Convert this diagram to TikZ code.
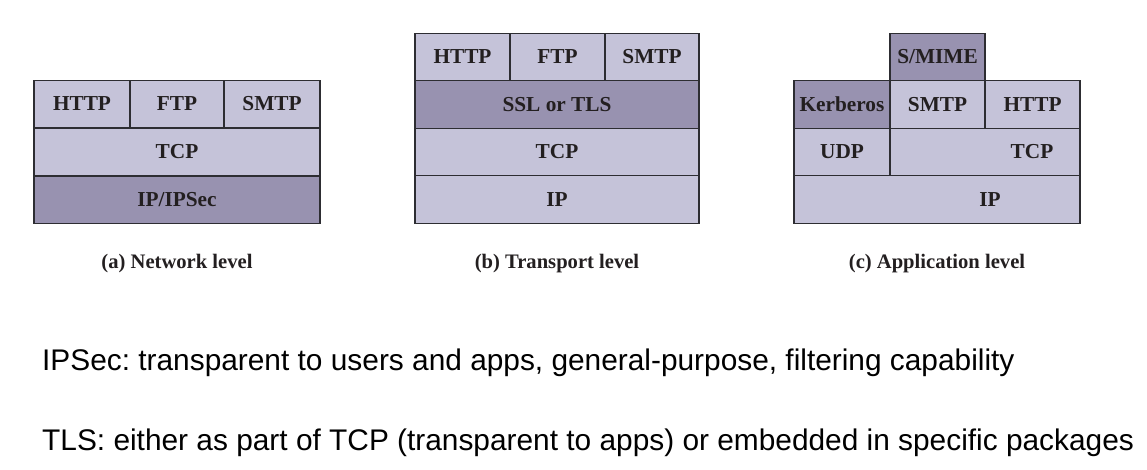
\documentclass[tikz,border=0pt]{standalone}
\usepackage{fontspec}
\setmainfont{Liberation Serif}
\newfontfamily\notefont{Liberation Sans}
\definecolor{layerlight}{RGB}{197,195,217}
\definecolor{layerdark}{RGB}{152,146,176}
\definecolor{layerline}{RGB}{45,45,50}
\definecolor{layerink}{RGB}{35,31,32}
\frenchspacing
\begin{document}
\begin{tikzpicture}[x=1pt,y=-1pt,
    layer/.style={draw=layerline,line width=1.3pt,fill=layerlight,inner sep=0pt,text=layerink,
        minimum height=47.6pt,font=\fontsize{21.3}{24}\selectfont\bfseries},
    seclayer/.style={layer,fill=layerdark},
    layertext/.style={inner sep=0pt,text=layerink,font=\fontsize{21.3}{24}\selectfont\bfseries},
    caption/.style={inner sep=0pt,text=layerink,font=\fontsize{20.6}{24}\selectfont\bfseries},
    note/.style={anchor=base west,inner sep=0pt,font=\notefont\fontsize{29.85}{36}\selectfont}]
        \useasboundingbox (0,0) rectangle (1147,469);
        % (a) network level
        \node[layer,minimum width=96pt] (aHttp) at (82,104) {HTTP};
        \node[layer,minimum width=94pt] (aFtp) at (177,104) {FTP};
        \node[layer,minimum width=96pt] (aSmtp) at (272,104) {SMTP};
        \node[layer,minimum width=286pt] (aTcp) at (177,152) {TCP};
        \node[seclayer,minimum width=286pt] (aIp) at (177,200) {IP/IPSec};
        \node[caption] (aCap) at (177,264) {(a) Network level};
        % (b) transport level
        \node[layer,minimum width=95pt] (bHttp) at (462.5,57) {HTTP};
        \node[layer,minimum width=95pt] (bFtp) at (557.5,57) {FTP};
        \node[layer,minimum width=94pt] (bSmtp) at (652,57) {SMTP};
        \node[seclayer,minimum width=284pt] (bSsl) at (557,104.5) {SSL or TLS};
        \node[layer,minimum width=284pt] (bTcp) at (557,152) {TCP};
        \node[layer,minimum width=284pt] (bIp) at (557,199.5) {IP};
        \node[caption] (bCap) at (557,264) {(b) Transport level};
        % (c) application level
        \node[seclayer,minimum width=95pt] (cMime) at (937.5,57) {S/MIME};
        \node[seclayer,minimum width=96pt] (cKerb) at (842,104.5) {Kerberos};
        \node[layer,minimum width=95pt] (cSmtp) at (937.5,104.5) {SMTP};
        \node[layer,minimum width=95pt] (cHttp) at (1032.5,104.5) {HTTP};
        \node[layer,minimum width=96pt] (cUdp) at (842,152) {UDP};
        \node[layer,minimum width=190pt] (cTcp) at (985,152) {};
        \node[layertext] (cTcpText) at (1032,152) {TCP};
        \node[layer,minimum width=286pt] (cIp) at (937,199.5) {};
        \node[layertext] (cIpText) at (990,199.5) {IP};
        \node[caption] (cCap) at (937,264) {(c) Application level};
        % notes
        \node[note] (ipsecNote) at (42,370) {IPSec: transparent to users and apps, general-purpose, filtering capability};
        \node[note] (tlsNote) at (42,450) {TLS: either as part of TCP (transparent to apps) or embedded in specific packages};
    \end{tikzpicture}
\end{document}
